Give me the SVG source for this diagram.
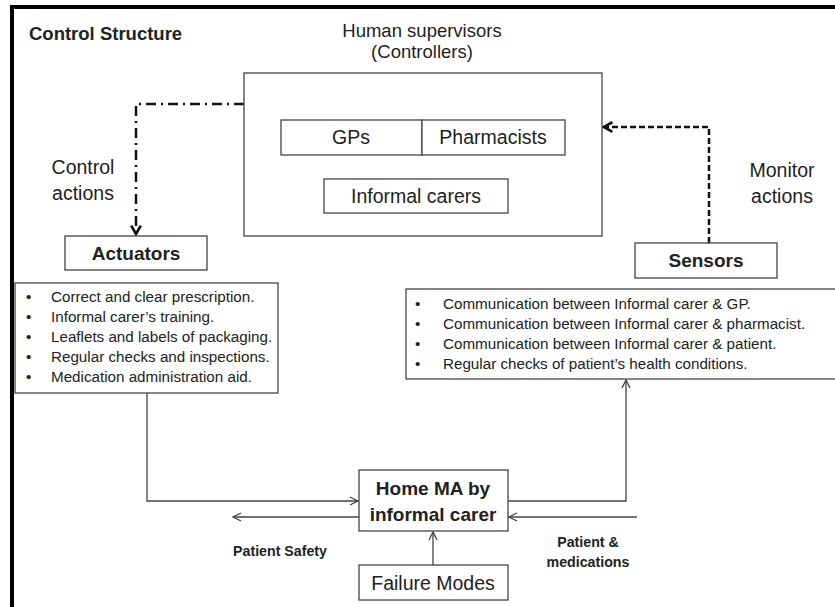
<svg xmlns="http://www.w3.org/2000/svg" width="835" height="607" viewBox="0 0 835 607">
<defs>
<style>
text{font-family:"Liberation Sans",Arial,sans-serif;fill:#222}
.box{fill:#fff;stroke:#444;stroke-width:1.3}
.big{font-size:19.5px}
.hd{font-size:18.5px}
.bb{font-size:19px;font-weight:bold}
.bold{font-weight:bold}
.list{font-size:15.2px;fill:#333}
.ln{fill:none;stroke:#444;stroke-width:1.3}
.mid{text-anchor:middle}
.sm{font-size:14.2px;font-weight:bold}
</style>
<marker id="ah" viewBox="0 0 10 10" refX="9" refY="5" markerWidth="10" markerHeight="10" markerUnits="userSpaceOnUse" orient="auto">
<path d="M1,1 L9,5 L1,9" fill="none" stroke="#444" stroke-width="1.3"/>
</marker>
<marker id="ahb" viewBox="0 0 10 10" refX="8" refY="5" markerWidth="12" markerHeight="12" markerUnits="userSpaceOnUse" orient="auto">
<path d="M1,1 L8,5 L1,9" fill="none" stroke="#111" stroke-width="2.2"/>
</marker>
</defs>
<rect width="835" height="607" fill="#fff"/>
<g id="frame">
<path d="M12,607 V7 H835" fill="none" stroke="#000" stroke-width="4"/>
<text x="29" y="40" class="bold" font-size="18.5">Control Structure</text>
</g>
<g id="connectors">
<path d="M244,104 H136 V234" fill="none" stroke="#111" stroke-width="2.5" stroke-dasharray="10 5 2 5" marker-end="url(#ahb)"/>
<path d="M709,243 V127 H604" fill="none" stroke="#111" stroke-width="2.5" stroke-dasharray="6 3" marker-end="url(#ahb)"/>
<path d="M350,155 V178" class="ln" marker-end="url(#ah)"/>
<path d="M493,155 V178" class="ln" marker-end="url(#ah)"/>
<path d="M147,393 V501 H358" class="ln" marker-end="url(#ah)"/>
<path d="M359,517 H233" class="ln" marker-end="url(#ah)"/>
<path d="M508,501 H626 V380" class="ln" marker-end="url(#ah)"/>
<path d="M637,517 H509" class="ln" marker-end="url(#ah)"/>
<path d="M433,565 V532" class="ln" marker-end="url(#ah)"/>
</g>
<g id="controllers">
<text x="422" y="37" class="hd mid">Human supervisors</text>
<text x="422" y="58" class="hd mid">(Controllers)</text>
<rect x="244" y="73" width="358" height="163" class="box"/>
</g>
<g id="gps">
<rect x="281" y="120" width="141" height="35" class="box"/>
<text x="351" y="144" class="big mid">GPs</text>
</g>
<g id="pharmacists">
<rect x="422" y="120" width="143" height="35" class="box"/>
<text x="493" y="144" class="big mid">Pharmacists</text>
</g>
<g id="informal-carers">
<rect x="324" y="179" width="184" height="34" class="box"/>
<text x="416" y="203" class="big mid">Informal carers</text>
</g>
<g id="control-actions-label">
<text x="83" y="174" class="big mid">Control</text>
<text x="83" y="200" class="big mid">actions</text>
</g>
<g id="monitor-actions-label">
<text x="782" y="177" class="big mid">Monitor</text>
<text x="782" y="203" class="big mid">actions</text>
</g>
<g id="actuators">
<rect x="65" y="236" width="142" height="34" class="box"/>
<text x="136" y="260" class="bb mid">Actuators</text>
</g>
<g id="sensors">
<rect x="635" y="243" width="142" height="35" class="box"/>
<text x="706" y="267" class="bb mid">Sensors</text>
</g>
<g id="actuator-list">
<rect x="15" y="283" width="263" height="110" class="box"/>
<g class="list">
<text x="26" y="302">•</text><text x="51" y="302">Correct and clear prescription.</text>
<text x="26" y="322">•</text><text x="51" y="322">Informal  carer’s training.</text>
<text x="26" y="342">•</text><text x="51" y="342">Leaflets and labels of packaging.</text>
<text x="26" y="362">•</text><text x="51" y="362">Regular checks and inspections.</text>
<text x="26" y="382">•</text><text x="51" y="382">Medication administration aid.</text>
</g>
</g>
<g id="sensor-list">
<rect x="406" y="289" width="440" height="90" class="box"/>
<g class="list">
<text x="415" y="309">•</text><text x="443" y="309">Communication between Informal carer &amp; GP.</text>
<text x="415" y="329">•</text><text x="443" y="329">Communication between Informal carer &amp; pharmacist.</text>
<text x="415" y="349">•</text><text x="443" y="349">Communication between Informal  carer &amp; patient.</text>
<text x="415" y="369">•</text><text x="443" y="369">Regular checks of patient’s health conditions.</text>
</g>
</g>
<g id="home-ma">
<rect x="359" y="470" width="149" height="61" class="box"/>
<text x="433" y="495" class="bb mid">Home MA by</text>
<text x="433" y="521" class="bb mid">informal carer</text>
</g>
<g id="failure-modes">
<rect x="359" y="565" width="149" height="35" class="box"/>
<text x="433" y="590" class="big mid">Failure Modes</text>
</g>
<g id="labels">
<text x="280" y="556" class="sm mid">Patient Safety</text>
<text x="588" y="547" class="sm mid">Patient &amp;</text>
<text x="588" y="567" class="sm mid">medications</text>
</g>
</svg>
